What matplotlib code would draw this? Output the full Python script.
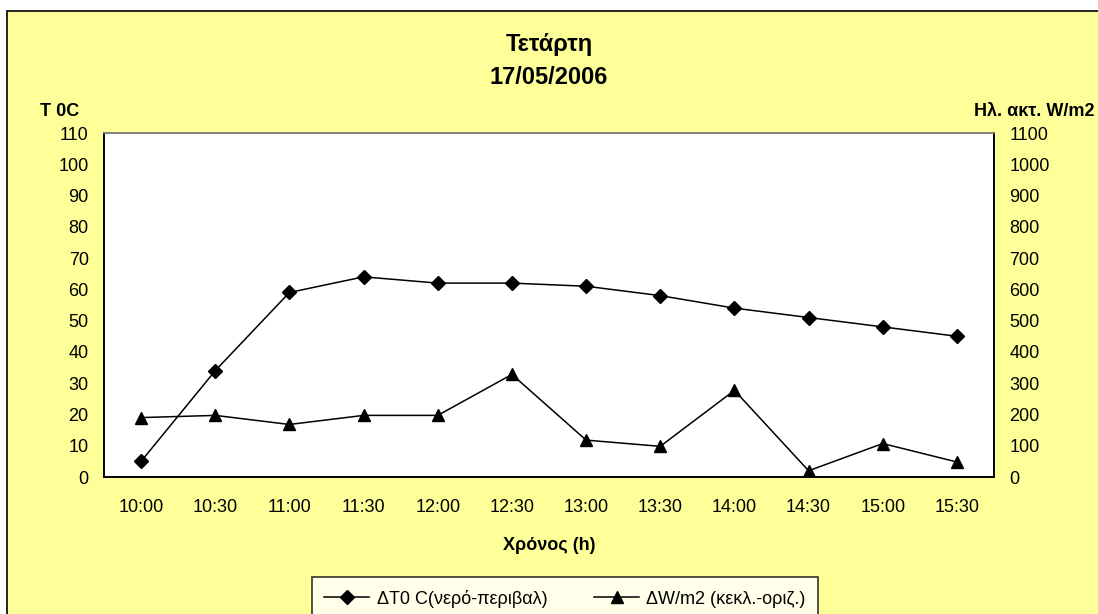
from matplotlib import pyplot as plt
from matplotlib.patches import Rectangle
from matplotlib.lines import Line2D
import numpy as np

plt.rcParams['font.family'] = ['Liberation Sans', 'DejaVu Sans']

times = ['10:00', '10:30', '11:00', '11:30', '12:00', '12:30',
         '13:00', '13:30', '14:00', '14:30', '15:00', '15:30']
dT = [5, 34, 59, 64, 62, 62, 61, 58, 54, 51, 48, 45]  # ΔT0 C (left axis)
dW = [190, 197, 168, 197, 197, 328, 118, 98, 277, 20, 107, 48]  # ΔW/m2 (right axis)

W, H = 1098, 614
fig = plt.figure(figsize=(W / 100, H / 100), dpi=100, facecolor='white')

# chart area (yellow, black frame, cropped at right and bottom)
fig.patches.append(Rectangle((7 / W, -0.1), 1.2, 1 - 11 / H + 0.1, transform=fig.transFigure,
                             facecolor='#FFFF99', edgecolor='black', linewidth=1.2, zorder=-5))

ax = fig.add_axes([104 / W, 1 - 477 / H, (994 - 104) / W, (477 - 133) / H])
ax.set_facecolor('white')
x = np.arange(len(times))
ax.plot(x, dT, color='black', lw=1.1, marker='D', ms=7, zorder=3)
ax.set_xlim(-0.5, len(times) - 0.5)
ax.set_ylim(0, 110)
ax.set_yticks(np.arange(0, 111, 10))
ax.set_xticks(x, times)
ax.tick_params(axis='both', length=0, labelsize=13)
ax.tick_params(axis='y', pad=11)
ax.tick_params(axis='x', pad=16)

ax2 = ax.twinx()
ax2.plot(x, dW, color='black', lw=1.1, marker='^', ms=9, zorder=3)
ax2.set_ylim(0, 1100)
ax2.set_yticks(np.arange(0, 1101, 100))
ax2.tick_params(axis='y', length=0, labelsize=13, pad=11)

for a in (ax, ax2):
    for s in a.spines.values():
        s.set_color('black')
        s.set_linewidth(1.2)
    a.spines['top'].set_color('#808080')

fig.text(549 / W, 1 - 45 / H, 'Τετάρτη', ha='center', va='center', fontsize=17, fontweight='bold')
fig.text(549 / W, 1 - 78 / H, '17/05/2006', ha='center', va='center', fontsize=17, fontweight='bold')
fig.text(60 / W, 1 - 112 / H, 'T 0C', ha='center', va='center', fontsize=13, fontweight='bold')
fig.text(1095 / W, 1 - 112 / H, 'Ηλ. ακτ. W/m2', ha='right', va='center', fontsize=13, fontweight='bold')
fig.text(549 / W, 1 - 545 / H, 'Χρόνος (h)', ha='center', va='center', fontsize=13, fontweight='bold')

handles = [Line2D([], [], color='black', lw=1.1, marker='D', ms=7),
           Line2D([], [], color='black', lw=1.1, marker='^', ms=9)]
labels = ['ΔT0 C(νερό-περιβαλ)', 'ΔW/m2 (κεκλ.-οριζ.)']
leg = fig.legend(handles, labels, loc='upper center', bbox_to_anchor=(565 / W, 1 - 577 / H),
                 ncol=2, fontsize=13, frameon=True, fancybox=False, handlelength=2.5,
                 handletextpad=0.4, columnspacing=2.6, borderpad=0.7, borderaxespad=0)
leg.get_frame().set_edgecolor('black')
leg.get_frame().set_facecolor('white')
leg.get_frame().set_linewidth(1.2)

plt.savefig('out.png', dpi=100, facecolor=fig.get_facecolor())
